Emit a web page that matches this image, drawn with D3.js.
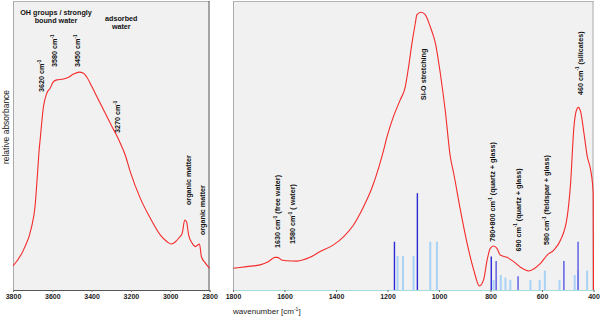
<!DOCTYPE html>
<html><head><meta charset="utf-8">
<script src="https://cdn.jsdelivr.net/npm/d3@7"></script>
<style>body{margin:0;background:#fff}svg{display:block;font-family:"Liberation Sans",Arial,sans-serif}</style>
</head><body><svg id="c" width="600" height="316"></svg>
<script>
// ---- data ----
const ohWavenumber = [3800,3747,3705,3688,3674,3667,3662,3645,3628,3611,3594,3577,3543,3518,3492,3463,3441,3424,3398,3373,3347,3322,3296,3278,3254,3229,3203,3152,3101,3050,3016,2995,2973,2957,2939,2926,2917,2906,2888,2871,2860,2851,2841,2820,2800];
const ohAbsorbance = [8.3,13.8,21.9,28.8,41.5,48.4,51.9,63.4,68.1,69.8,72.1,72.7,73.0,73.6,74.7,75.4,75.0,73.6,70.3,66.9,63.4,60.0,56.5,54.2,50.8,46.7,40.9,31.7,24.8,19.0,16.7,15.9,16.7,17.9,19.6,24.2,23.6,19.0,16.2,15.0,15.6,15.9,11.5,9.2,7.5];
const siWavenumber = [1799,1747,1695,1663,1637,1628,1611,1591,1552,1501,1462,1410,1371,1332,1293,1261,1235,1215,1202,1177,1151,1131,1118,1105,1092,1086,1070,1053,1034,1014,995,976,956,943,917,891,865,843,827,813,801,788,775,762,736,710,684,652,632,606,580,554,528,502,489,476,466,459,450,437,424,411,401,400];
const siAbsorbance = [7.5,8.1,8.7,9.8,11.3,11.3,10.4,10.1,10.0,11.3,13.3,15.6,18.4,22.5,28.8,35.2,42.1,48.4,53.0,60.0,65.7,70.3,77.3,85.4,92.3,95.2,96.1,95.2,91.1,85.4,75.0,62.3,46.1,40.4,27.7,16.2,6.9,1.4,3.5,10.4,14.4,15.2,14.4,12.1,11.3,9.8,7.9,6.6,7.3,9.2,12.1,13.8,17.3,25.4,36.9,56.5,62.3,63.2,61.7,54.2,46.1,41.5,33.4,0];
const quartzLines = [1173,1084,797];
const quartzHeights = [16.7,33.5,11.6];
const feldsparLines = [778,693,515,460];
const feldsparHeights = [10.0,4.8,10.0,16.7];
const glassLines = [1161,1140,1099,1034,1008,788,760,742,723,645,609,589,532,473,460,425];
const glassHeights = [11.8,11.8,11.8,16.7,16.7,3.5,5.2,4.3,3.5,3.5,3.5,6.7,3.5,5.2,6.7,6.7];
const leftTicks = [3800,3600,3400,3200,3000,2800];
const rightTicks = [1800,1600,1400,1200,1000,800,600,400];

// annotations (text, anchor wavenumber, anchor absorbance)
const leftNotes = [
  {t:"3620 cm", s:"-1", wn:3655, v:68.5},
  {t:"3580 cm", s:"-1", wn:3591, v:77.2},
  {t:"3450 cm", s:"-1", wn:3473, v:77.2},
  {t:"3270 cm", s:"-1", wn:3269, v:54.3},
  {t:"organic matter", s:"", wn:2910, v:29.4},
  {t:"organic matter", s:"", wn:2837, v:19.0}
];
const rightNotes = [
  {t:"1630 cm", s:"-1", r:" (free water)", wn:1628, v:14.5},
  {t:"1580 cm", s:"-1", r:" ( water)", wn:1569, v:15.9},
  {t:"Si-O stretching", s:"", r:"", wn:1062, v:65.7},
  {t:"780+800 cm", s:"-1", r:" (quartz + glass)", wn:794, v:16.7},
  {t:"690 cm", s:"-1", r:" (quartz + glass)", wn:694, v:13.3},
  {t:"580 cm", s:"-1", r:" (feldspar + glass)", wn:584, v:15.6},
  {t:"460 cm", s:"-1", r:" (silicates)", wn:454, v:67.5}
];

// ---- layout ----
const svg = d3.select("#c");
const plotTop = 1, plotBottom = 290;
const y = d3.scaleLinear().domain([0,100]).range([plotBottom, plotTop]);
const xL = d3.scaleLinear().domain([3800,2800]).range([13,209.5]);
const xR = d3.scaleLinear().domain([1800,400]).range([233,593.5]);
const red = "#f52a2a";

function panel(x, leftCol, rightCol){
  const [a,b] = x.range();
  svg.append("rect").attr("x",a).attr("y",plotTop).attr("width",b-a).attr("height",plotBottom-plotTop).attr("fill","#f1f1f1");
  svg.append("line").attr("x1",a).attr("x2",b).attr("y1",plotTop+0.5).attr("y2",plotTop+0.5).attr("stroke","#b4b4b4");
  svg.append("line").attr("x1",a+0.5).attr("x2",a+0.5).attr("y1",plotTop).attr("y2",plotBottom).attr("stroke",leftCol);
  svg.append("line").attr("x1",b-0.5).attr("x2",b-0.5).attr("y1",plotTop).attr("y2",plotBottom).attr("stroke",rightCol);
}
panel(xL, "#aaaaaa", "#555555");
panel(xR, "#aaaaaa", "#aaaaaa");

// axes
function axis(x, ticks, col){
  const g = svg.append("g").attr("transform",`translate(0,${plotBottom})`)
    .call(d3.axisBottom(x).tickValues(ticks).tickFormat(d3.format("d")).tickSize(2).tickPadding(2));
  g.select(".domain").attr("stroke",col);
  g.selectAll(".tick line").attr("stroke","#777");
  g.selectAll(".tick text").attr("font-size","7px").attr("fill","#222").attr("font-family","Liberation Sans, Arial, sans-serif").attr("font-weight","bold");
}
axis(xL, leftTicks, "#555");
axis(xR, rightTicks, "#a6dcdc");

// bars
function bars(wn, h, col, w){
  svg.append("g").selectAll("line").data(wn).join("line")
    .attr("x1",d=>xR(d)).attr("x2",d=>xR(d))
    .attr("y1",y(0)).attr("y2",(d,i)=>y(h[i]))
    .attr("stroke",col).attr("stroke-width",w);
}
bars(glassLines, glassHeights, "#a9d2f7", 2);
bars(feldsparLines, feldsparHeights, "#6a6ae6", 1.6);
bars(quartzLines, quartzHeights, "#2b2bd6", 1.4);

// curves
const lineL = d3.line().x((d,i)=>xL(ohWavenumber[i])).y(d=>y(d)).curve(d3.curveMonotoneX);
const lineR = d3.line().x((d,i)=>xR(siWavenumber[i])).y(d=>y(d)).curve(d3.curveMonotoneX);
svg.append("path").attr("d",lineL(ohAbsorbance)).attr("fill","none").attr("stroke",red).attr("stroke-width",1.1);
svg.append("path").attr("d",lineR(siAbsorbance)).attr("fill","none").attr("stroke",red).attr("stroke-width",1.1);

// rotated notes
function notes(list, x){
  list.forEach(n=>{
    const t = svg.append("text")
      .attr("transform",`translate(${x(n.wn)},${y(n.v)}) rotate(-90)`)
      .attr("dominant-baseline","central")
      .attr("font-size","7.2px").attr("font-weight","bold").attr("fill","#111");
    t.append("tspan").text(n.t);
    if(n.s){ t.append("tspan").attr("font-size","4.5px").attr("dy","-2.5").text(n.s);
      if(n.r) t.append("tspan").attr("dy","2.5").text(n.r); }
    else if(n.r) t.append("tspan").text(n.r);
  });
}
notes(leftNotes, xL);
notes(rightNotes, xR);

// horizontal notes
const hNotes = [
  {t:"OH groups / strongly", wn:3581, v:95.0},
  {t:"bound water", wn:3581, v:92.3},
  {t:"adsorbed", wn:3249, v:93.2},
  {t:"water", wn:3249, v:90.3}
];
hNotes.forEach(n=>svg.append("text").attr("x",xL(n.wn)).attr("y",y(n.v))
  .attr("text-anchor","middle").attr("font-size","7.2px").attr("font-weight","bold").attr("fill","#111").text(n.t));

// axis titles
svg.append("text").attr("transform","translate(6,127) rotate(-90)").attr("text-anchor","middle")
  .attr("dominant-baseline","central").attr("font-size","8.5px").attr("fill","#222").text("relative absorbance");
const wt = svg.append("text").attr("x",233).attr("y",314).attr("font-size","8px").attr("fill","#222");
wt.append("tspan").text("wavenumber [cm");
wt.append("tspan").attr("font-size","5px").attr("dy","-3").text("-1");
wt.append("tspan").attr("dy","3").text("]");
</script></body></html>
